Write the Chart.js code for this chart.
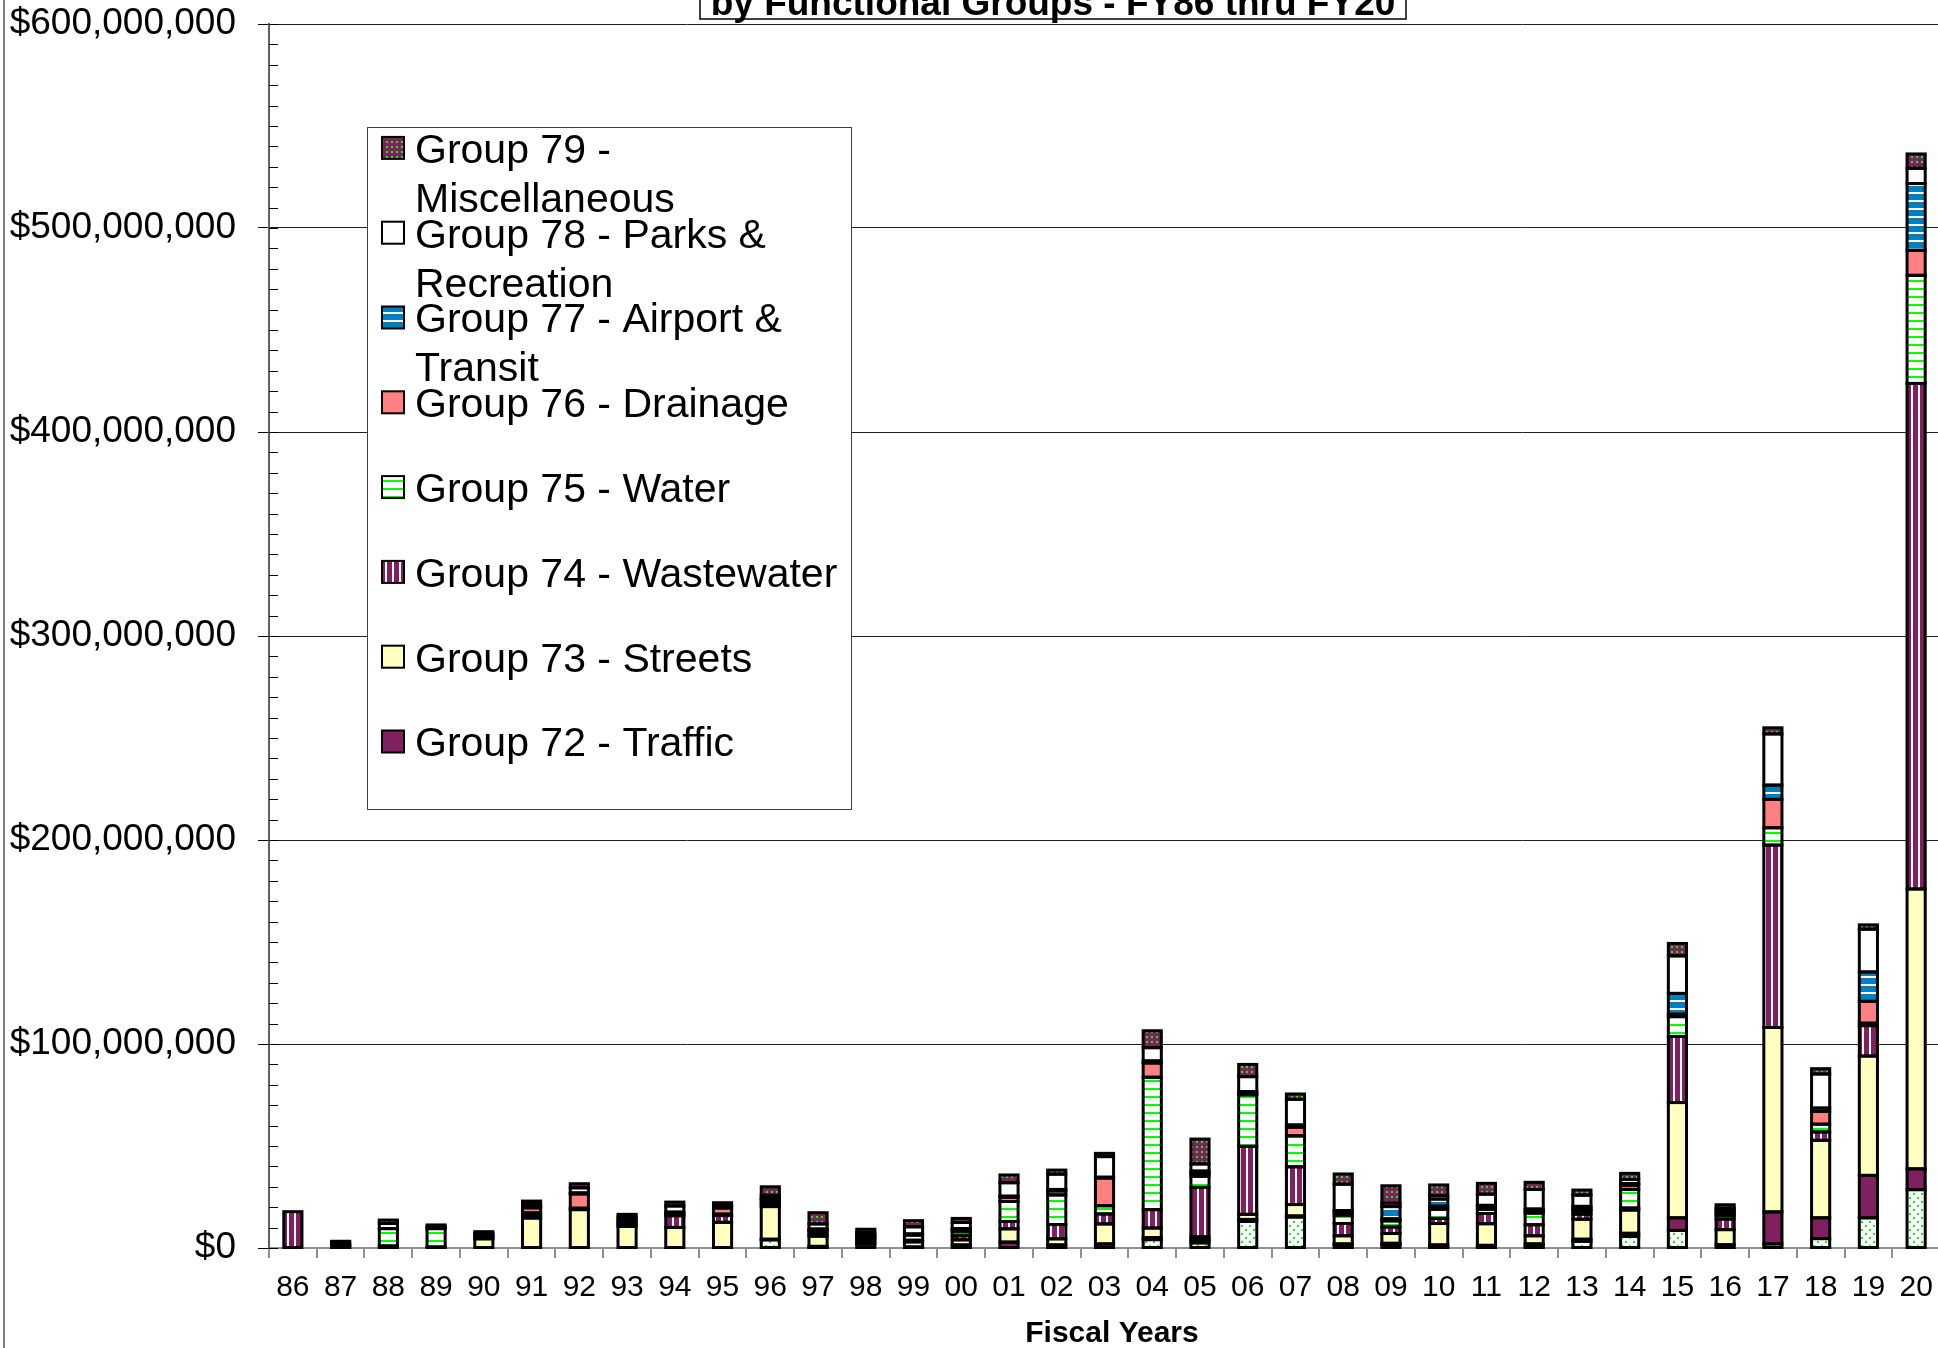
<!DOCTYPE html>
<html>
<head>
<meta charset="utf-8">
<title>Bond Expenditures by Functional Groups</title>
<script src="https://cdn.jsdelivr.net/npm/chart.js@4.4.1/dist/chart.umd.min.js"></script>
<style>
  html, body { margin: 0; padding: 0; background: #fff; overflow: hidden; }
  #wrap { position: absolute; left: 0; top: 0; width: 1960px; height: 1348px; }
  #c { display: block; }
</style>
</head>
<body>
<div id="wrap"><canvas id="c" width="1960" height="1348" style="width:1960px;height:1348px"></canvas></div>
<script>
// Fiscal years on the category axis
const fiscalYears = ['86','87','88','89','90','91','92','93','94','95','96','97','98','99',
  '00','01','02','03','04','05','06','07','08','09','10','11','12','13','14','15','16','17','18','19','20'];

// Expenditures per functional group, in millions of dollars (bottom of stack first)
const g71 = [0,0,0,0,0,0,0,0,0,0, 4.0,0.3,0,0,0, 0,0,0,4.1,2.5, 13.0,15.2,1.5,1.5,0.5, 0.3,0.5,3.3,5.7,8.6, 0,2.0,4.6,14.8,28.6];
const g72 = [0,0.6,1.0,0.5,0,0,0,0,0,0, 0.3,0.5,2.0,0.5,1.5, 2.9,1.5,2.0,1.0,1.5, 1.0,0.5,0.5,0.8,1.0, 1.0,1.5,1.0,1.5,6.2, 1.6,15.7,10.2,20.8,10.2];
const g73 = [0,0.4,0,0,4.5,14.7,18.8,10.6,10.1,12.6, 16.0,5.0,1.0,2.5,2.5, 6.5,3.0,9.8,4.7,1.5, 2.5,5.6,4.0,4.8,10.5, 10.6,4.0,9.8,11.4,56.5, 7.4,90.4,38.0,58.5,137.2];
const g74 = [17.8,0.4,0,0,0.8,1.2,0.7,1.0,5.7,3.3, 1.2,1.0,1.5,0.8,2.0, 3.6,7.0,4.9,9.0,24.2, 33.3,18.5,6.0,3.2,2.5, 5.0,5.4,2.5,1.0,32.4, 5.2,89.4,4.1,14.9,247.8];
const g75 = [0,0.6,8.5,9.0,0,1.3,0,0.8,0.8,0.7, 1.0,1.5,1.0,2.5,2.0, 9.8,14.5,4.0,64.9,5.5, 25.3,15.2,4.0,3.0,4.5, 2.0,5.7,1.5,9.1,9.7, 1.8,8.5,3.8,1.2,53.0];
const g76 = [0,0,0,0,0.5,2.5,7.0,1.4,1.0,3.0, 1.5,0.5,0.5,0.6,1.0, 2.1,2.0,13.6,7.0,1.5, 0.8,4.1,1.5,1.0,1.5, 1.5,1.0,0.8,2.1,1.2, 1.0,13.9,6.2,10.7,12.3];
const g77 = [0,0,0,0,0,0.5,0.5,0,0,0, 0.3,0.5,0,0,0.5, 0.5,0.7,0.4,1.0,1.0, 0.7,1.2,0.8,6.0,3.5, 0.5,1.0,1.5,0.8,10.2, 1.2,7.0,1.7,14.4,32.7];
const g78 = [0,0.8,2.5,0.8,1.2,1.5,2.5,1.5,3.0,1.0, 1.5,2.5,1.5,3.5,3.0, 6.6,7.5,10.1,6.5,3.5, 7.4,12.6,13.0,1.7,1.7, 5.5,9.6,5.5,2.0,18.4, 1.3,25.1,16.7,21.0,7.5];
const g79 = [0,0.5,1.7,1.0,1.0,1.3,2.0,1.2,1.9,1.6, 4.2,5.5,1.7,3.0,2.0, 3.8,2.0,1.6,8.3,12.2, 6.0,2.6,5.0,8.5,5.2, 5.3,3.5,2.5,3.0,6.1, 1.7,3.0,2.6,2.1,7.0];

const groupLabels = [
  'Group 71',
  'Group 72 - Traffic',
  'Group 73 - Streets',
  'Group 74 - Wastewater',
  'Group 75 - Water',
  'Group 76 - Drainage',
  'Group 77 - Airport & Transit',
  'Group 78 - Parks & Recreation',
  'Group 79 - Miscellaneous'
];

// y axis range and step, in millions
const yMax = 600;
const yStep = 100;
const yMinorStep = 10;

const FONT = '"Liberation Sans", Arial, Helvetica, sans-serif';
const PURPLE = '#802060';
const YELLOW = '#FFFFC0';
const SALMON = '#FF8080';
const BLUE = '#0080C0';
const GREEN = '#00FF00';

const canvas = document.getElementById('c');
const mainCtx = canvas.getContext('2d');

// Small tiles used as repeating fills
function tile(w, h, paint) {
  const t = document.createElement('canvas');
  t.width = w; t.height = h;
  const x = t.getContext('2d');
  paint(x);
  return mainCtx.createPattern(t, 'repeat');
}
const fillSparseDots = tile(8, 8, x => {
  x.fillStyle = '#fff'; x.fillRect(0, 0, 8, 8);
  x.fillStyle = GREEN; x.fillRect(1, 1, 2, 2); x.fillRect(5, 5, 2, 2);
});
const fillVStripes = tile(7, 4, x => {
  x.fillStyle = PURPLE; x.fillRect(0, 0, 7, 4);
  x.fillStyle = '#fff'; x.fillRect(0, 0, 2, 4);
});
const fillGreenLines = tile(4, 8, x => {
  x.fillStyle = '#fff'; x.fillRect(0, 0, 4, 8);
  x.fillStyle = GREEN; x.fillRect(0, 0, 4, 2);
});
const fillBlueLines = tile(4, 8, x => {
  x.fillStyle = BLUE; x.fillRect(0, 0, 4, 8);
  x.fillStyle = '#fff'; x.fillRect(0, 0, 4, 2);
});
const fillPurpleDots = tile(5, 5, x => {
  x.fillStyle = PURPLE; x.fillRect(0, 0, 5, 5);
  x.fillStyle = GREEN; x.fillRect(1, 1, 2, 2);
});

const seriesData = [g71, g72, g73, g74, g75, g76, g77, g78, g79];
const seriesFill = [fillSparseDots, PURPLE, YELLOW, fillVStripes, fillGreenLines, SALMON, fillBlueLines, '#fff', fillPurpleDots];

const datasets = seriesData.map((d, i) => ({
  label: groupLabels[i],
  data: d,
  backgroundColor: seriesFill[i],
  borderWidth: 0,
  barPercentage: 0.38,
  categoryPercentage: 1.0
}));

// Outline every stacked segment with a centred black stroke
const segmentOutline = {
  id: 'segmentOutline',
  afterDatasetsDraw(chart) {
    const ctx = chart.ctx;
    ctx.save();
    ctx.strokeStyle = '#000';
    ctx.lineWidth = 3;
    ctx.lineJoin = 'miter';
    chart.data.datasets.forEach((ds, i) => {
      const meta = chart.getDatasetMeta(i);
      meta.data.forEach((bar, j) => {
        if (!ds.data[j]) return;
        const p = bar.getProps(['x', 'y', 'base', 'width'], true);
        const top = Math.min(p.y, p.base);
        const h = Math.abs(p.base - p.y);
        ctx.strokeRect(p.x - p.width / 2, top, p.width, h);
      });
    });
    ctx.restore();
  }
};

function wrapWords(ctx, text, maxW) {
  const words = text.split(' ');
  const lines = [];
  let cur = '';
  words.forEach(w => {
    const trial = cur ? cur + ' ' + w : w;
    if (cur && ctx.measureText(trial).width > maxW) { lines.push(cur); cur = w; }
    else cur = trial;
  });
  if (cur) lines.push(cur);
  return lines;
}

// Frame, heading, minor ticks, axis title and legend
const decorations = {
  id: 'decorations',
  afterDraw(chart) {
    const ctx = chart.ctx;
    const area = chart.chartArea;
    const yScale = chart.scales.y;
    ctx.save();

    // minor tick marks inside the value axis
    ctx.strokeStyle = '#000';
    ctx.lineWidth = 1;
    for (let v = 0; v <= yMax; v += yMinorStep) {
      const py = Math.round(yScale.getPixelForValue(v)) + 0.5;
      ctx.beginPath();
      ctx.moveTo(area.left, py);
      ctx.lineTo(area.left + 9, py);
      ctx.stroke();
    }

    // outer chart frame edge
    ctx.strokeStyle = '#808080';
    ctx.lineWidth = 2;
    ctx.beginPath();
    ctx.moveTo(4, 0);
    ctx.lineTo(4, chart.height);
    ctx.stroke();

    // heading box
    ctx.fillStyle = '#fff';
    ctx.fillRect(700, -70, 706, 89);
    ctx.strokeStyle = '#000';
    ctx.lineWidth = 1.5;
    ctx.strokeRect(700, -70, 706, 89);
    ctx.fillStyle = '#000';
    ctx.font = 'bold 37px ' + FONT;
    ctx.textAlign = 'center';
    ctx.textBaseline = 'alphabetic';
    ctx.fillText('by Functional Groups - FY86 thru FY20', 1053, 15);

    // category axis title
    ctx.font = 'bold 30px ' + FONT;
    ctx.fillText('Fiscal Years', 1112, 1342);

    // legend
    const L = { left: 367, top: 127, right: 851, bottom: 809 };
    ctx.fillStyle = '#fff';
    ctx.fillRect(L.left, L.top, L.right - L.left, L.bottom - L.top);
    ctx.strokeStyle = '#404040';
    ctx.lineWidth = 1;
    ctx.strokeRect(L.left + 0.5, L.top + 0.5, L.right - L.left, L.bottom - L.top);
    ctx.font = '41px ' + FONT;
    ctx.textAlign = 'left';
    const order = [8, 7, 6, 5, 4, 3, 2, 1];
    order.forEach((di, k) => {
      const ds = chart.data.datasets[di];
      const capTop = 133.4 + 84.8 * k;
      const baseline = capTop + 29.4;
      ctx.fillStyle = ds.backgroundColor;
      ctx.fillRect(382, capTop + 3.5, 22, 22);
      ctx.strokeStyle = '#000';
      ctx.lineWidth = 2;
      ctx.strokeRect(382, capTop + 3.5, 22, 22);
      ctx.fillStyle = '#000';
      wrapWords(ctx, ds.label, 430).forEach((ln, li) => {
        ctx.fillText(ln, 415, baseline + 49 * li);
      });
    });
    ctx.restore();
  }
};

Chart.defaults.font.family = FONT;
Chart.defaults.color = '#000';

new Chart(canvas, {
  type: 'bar',
  data: { labels: fiscalYears, datasets },
  options: {
    responsive: false,
    maintainAspectRatio: false,
    devicePixelRatio: 1,
    animation: false,
    layout: { padding: { top: 24, right: 20, left: 0, bottom: 0 } },
    plugins: {
      legend: { display: false },
      title: { display: false },
      tooltip: { enabled: false }
    },
    scales: {
      x: {
        stacked: true,
        afterFit(s) {
          s.height = 100;
          s.paddingLeft = 0;
          s.paddingRight = 0;
        },
        grid: {
          display: true,
          drawOnChartArea: false,
          drawTicks: true,
          tickLength: 10,
          color: '#909090',
          lineWidth: 2,
          offset: true
        },
        border: { display: true, color: '#909090', width: 2 },
        ticks: {
          autoSkip: false,
          maxRotation: 0,
          minRotation: 0,
          padding: 12,
          color: '#000',
          font: { size: 30, family: FONT }
        }
      },
      y: {
        stacked: true,
        min: 0,
        max: yMax,
        afterFit(s) {
          s.width = 269;
          s.paddingTop = 0;
          s.paddingBottom = 0;
        },
        grid: {
          color: ctx => (ctx.tick && ctx.tick.value === 0) ? 'rgba(0,0,0,0)' : '#202020',
          lineWidth: 1,
          tickLength: 11,
          tickColor: '#000'
        },
        border: { display: true, color: '#606060', width: 2 },
        ticks: {
          stepSize: yStep,
          padding: 22,
          color: '#000',
          font: { size: 37, family: FONT },
          callback: v => '$' + (v * 1e6).toLocaleString('en-US')
        }
      }
    }
  },
  plugins: [segmentOutline, decorations]
});
</script>
</body>
</html>
